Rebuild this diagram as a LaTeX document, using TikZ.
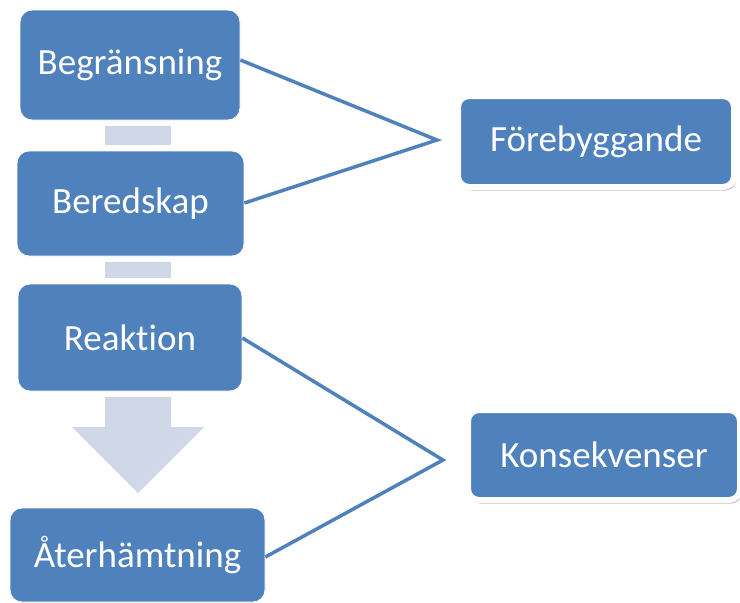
\documentclass[tikz,border=0pt]{standalone}
\usepackage{fontspec}
\setmainfont[Ligatures=NoCommon]{Carlito}
\usetikzlibrary{shadows}
\definecolor{boxblue}{HTML}{4F81BD}
\definecolor{gapgray}{HTML}{D0D8E8}
\begin{document}
\begin{tikzpicture}[x=1pt,y=1pt,
  leftbox/.style={rectangle, rounded corners=12pt, fill=boxblue, draw=white, line width=0.8pt,
    text=white, font=\fontsize{37}{44}\selectfont, inner sep=0pt},
  rightbox/.style={rectangle, rounded corners=11pt, fill=boxblue, draw=white, line width=6pt,
    text=white, font=\fontsize{37}{44}\selectfont, inner sep=0pt,
    drop shadow={shadow xshift=2pt, shadow yshift=-3.5pt, opacity=0.5, fill=black!55}},
  gapbar/.style={rectangle, fill=gapgray, inner sep=0pt},
  link/.style={draw=boxblue, line width=3.5pt, line join=miter}]
\useasboundingbox (0,0) rectangle (740,-603);
\node[leftbox, minimum width=220, minimum height=110] (b1) at (130,-65) {Begränsning};
\node[gapbar, minimum width=66, minimum height=19] (g1) at (138,-135.5) {};
\node[leftbox, minimum width=227, minimum height=105] (b2) at (130.5,-203.5) {Beredskap};
\node[gapbar, minimum width=66, minimum height=16] (g2) at (138,-270) {};
\node[leftbox, minimum width=224, minimum height=107] (b3) at (130,-337.5) {Reaktion};
\fill[gapgray] (105,-397) -- (171,-397) -- (171,-427) -- (204,-427) -- (138,-493) -- (72,-427) -- (105,-427) -- cycle;
\node[leftbox, minimum width=255, minimum height=94] (b4) at (137.5,-555) {Återhämtning};
\node[rightbox, minimum width=276, minimum height=91] (r1) at (596,-141.5) {Förebyggande};
\node[rightbox, minimum width=272, minimum height=90] (r2) at (604,-455) {Konsekvenser};
\coordinate (c1) at (437,-140);
\coordinate (c2) at (443,-460);
\draw[link] (b1.east |- 0,-60) -- (c1) -- (b2.east |- 0,-203);
\draw[link] (b3.east |- 0,-338) -- (c2) -- (b4.east |- 0,-557);
\end{tikzpicture}
\end{document}
